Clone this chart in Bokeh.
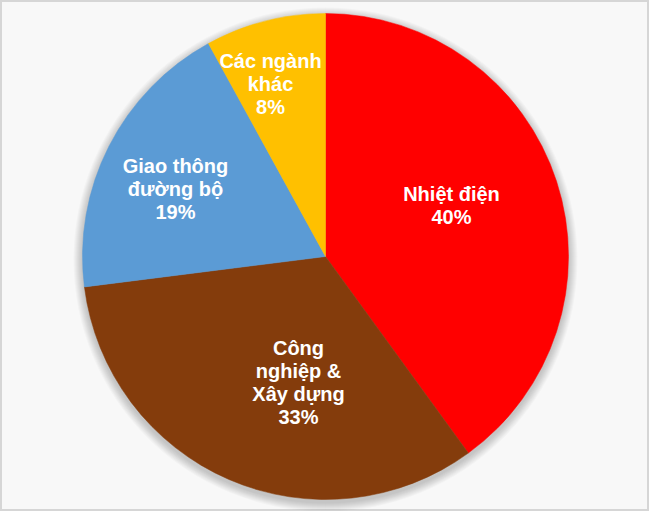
import math
from bokeh.plotting import figure
from bokeh.models import Range1d, ColumnDataSource
from bokeh.core.properties import value
from bokeh.embed import file_html
from bokeh.resources import INLINE

# data
categories = ["Nhiệt điện", "Công\nnghiệp &\nXây dựng", "Giao thông\nđường bộ", "Các ngành\nkhác"]
shares = [40, 33, 19, 8]
colors = ["#FF0000", "#843C0C", "#5B9BD5", "#FFC000"]

W, H = 649, 511
cx, cy, r = 325, 255, 243

# label anchors (first line baseline), in pixels from pie centre
label_pos = [(126, 63), (-27, -91), (-150, 91), (-55, 196)]
line_gap = 23

p = figure(width=W, height=H, output_backend="svg", toolbar_location=None,
           x_range=Range1d(0, W), y_range=Range1d(0, H), min_border=0)
p.axis.visible = False
p.grid.visible = False
p.background_fill_color = "#f8f8f8"
p.border_fill_color = "#f8f8f8"
p.outline_line_color = "#d6d6d6"
p.outline_line_width = 3

# soft shadow
for k in range(1, 10):
    p.circle(x=cx, y=cy - 3, radius=r + k, fill_color="black", fill_alpha=0.022,
             line_color=None)

total = sum(shares)
starts, ends = [], []
acc = 0
for v in shares:
    starts.append(math.pi / 2 - 2 * math.pi * acc / total)
    acc += v
    ends.append(math.pi / 2 - 2 * math.pi * acc / total)

src = ColumnDataSource(dict(start=starts, end=ends, color=colors))
p.wedge(x=cx, y=cy, radius=r, start_angle="start", end_angle="end",
        direction="clock", fill_color="color", line_color="color", line_width=0.5,
        source=src)

xs, ys, txt = [], [], []
for cat, v, (dx, dy) in zip(categories, shares, label_pos):
    lines = cat.split("\n") + [f"{v}%"]
    for i, line in enumerate(lines):
        xs.append(cx + dx)
        ys.append(cy + dy - i * line_gap)
        txt.append(line)

p.text(x=xs, y=ys, text=txt, text_font=value("Liberation Sans"),
       text_font_style="bold", text_font_size="20px", text_color="white",
       text_align="center", text_baseline="alphabetic")

open("out.html", "w").write(file_html(p, INLINE))
